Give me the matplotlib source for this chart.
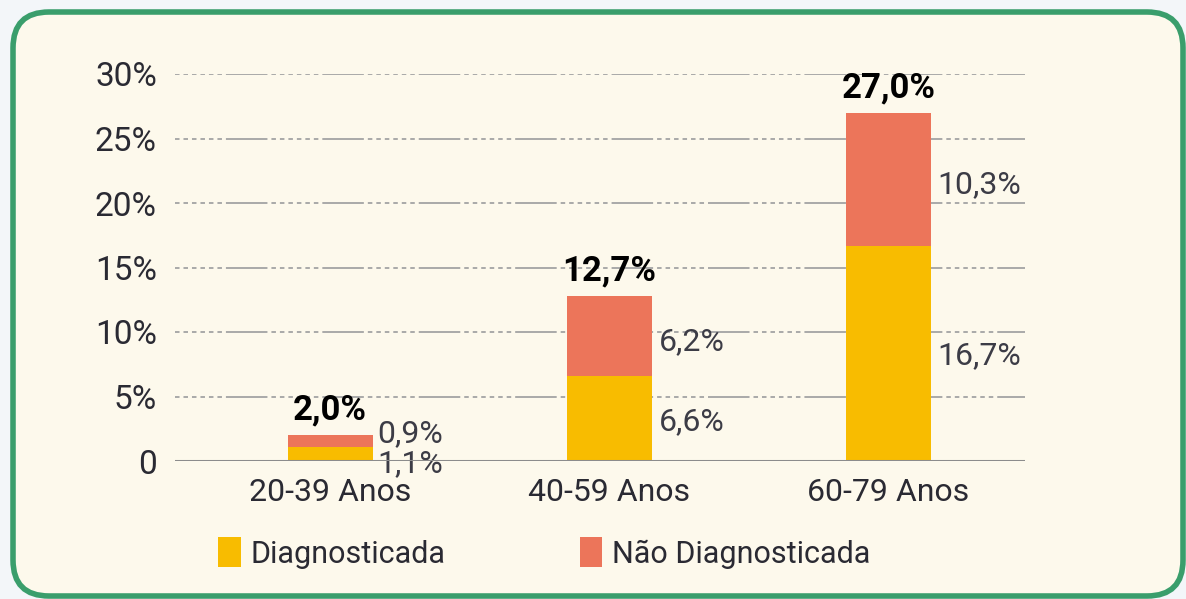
import matplotlib.pyplot as plt
from matplotlib.patches import FancyBboxPatch, Patch

categories = ["20-39 Anos", "40-59 Anos", "60-79 Anos"]
diagnosticada = [1.1, 6.6, 16.7]
nao_diagnosticada = [0.9, 6.2, 10.3]
totais = ["2,0%", "12,7%", "27,0%"]
diag_labels = ["1,1%", "6,6%", "16,7%"]
nao_labels = ["0,9%", "6,2%", "10,3%"]
yticks = [0, 5, 10, 15, 20, 25, 30]
ytick_labels = ["0", "5%", "10%", "15%", "20%", "25%", "30%"]

YELLOW = "#f8bc00"
CORAL = "#ec755a"
CREAM = "#fdf9ec"
GREEN = "#3a9e6c"
TEXT = "#2a2a33"
LABEL = "#3c3c46"

plt.rcParams["font.family"] = ["Roboto", "DejaVu Sans"]

fig = plt.figure(figsize=(11.86, 5.99), dpi=100)
fig.patch.set_facecolor("#f3f6f9")

# background card, drawn in pixel coordinates
bg = fig.add_axes([0, 0, 1, 1], zorder=-1)
bg.set_xlim(0, 1186)
bg.set_ylim(599, 0)
bg.axis("off")
bg.add_patch(FancyBboxPatch((13, 12), 1170, 584, boxstyle="round,pad=0,rounding_size=36",
                            facecolor=CREAM, edgecolor=GREEN, linewidth=4))

ax = fig.add_axes([175 / 1186, 138 / 599, 850 / 1186, 387 / 599])
ax.set_facecolor("none")

x = list(range(len(categories)))
width = 0.305
ax.bar(x, diagnosticada, width, color=YELLOW, zorder=3)
ax.bar(x, nao_diagnosticada, width, bottom=diagnosticada, color=CORAL, zorder=3)

ax.set_xlim(-0.556, 2.49)
ax.set_ylim(0, 30)

dash = (0, (2.5, 2.2, 2.5, 2.2, 2.5, 2.2, 2.5, 2.2, 2.5, 2.2, 2.5, 2.2, 23, 2.2))
for t in yticks[1:]:
    ax.axhline(t, color="#a3a3a3", lw=1.3, linestyle=dash, zorder=1)
ax.axhline(0, color="#8c8c8c", lw=2.2, zorder=4)

for s in ax.spines.values():
    s.set_visible(False)
ax.set_yticks(yticks)
ax.set_yticklabels(ytick_labels, fontsize=24, color=TEXT)
ax.set_xticks(x)
ax.set_xticklabels(categories, fontsize=23, color=TEXT)
ax.tick_params(length=0, axis="y", pad=13)
ax.tick_params(length=0, axis="x", pad=12)

for i in x:
    total = diagnosticada[i] + nao_diagnosticada[i]
    ax.annotate(totais[i], (i, total), xytext=(0, 6), textcoords="offset points",
                ha="center", va="bottom", fontsize=25, fontweight="bold", color="black")
    right = i + width / 2
    if total < 5:
        ax.annotate(nao_labels[i], (right, total), xytext=(3, 1), textcoords="offset points",
                    ha="left", va="center", fontsize=23, color=LABEL)
        ax.annotate(diag_labels[i], (right, 0), xytext=(3, -2), textcoords="offset points",
                    ha="left", va="center", fontsize=23, color=LABEL)
    else:
        ax.annotate(nao_labels[i], (right, diagnosticada[i] + nao_diagnosticada[i] / 2),
                    xytext=(5, -4), textcoords="offset points",
                    ha="left", va="center", fontsize=23, color=LABEL)
        ax.annotate(diag_labels[i], (right, diagnosticada[i] / 2),
                    xytext=(5, -2), textcoords="offset points",
                    ha="left", va="center", fontsize=23, color=LABEL)

handles = [Patch(facecolor=YELLOW), Patch(facecolor=CORAL)]
fig.legend(handles, ["Diagnosticada", "Não Diagnosticada"], loc="center left",
           bbox_to_anchor=(218 / 1186, 1 - 553 / 599), ncol=2, frameon=False,
           borderpad=0, borderaxespad=0,
           fontsize=22, handlelength=0.75, handleheight=1.1, handletextpad=0.3,
           columnspacing=4.4, labelcolor=TEXT)

fig.savefig("out.png", dpi=100, facecolor=fig.get_facecolor())
